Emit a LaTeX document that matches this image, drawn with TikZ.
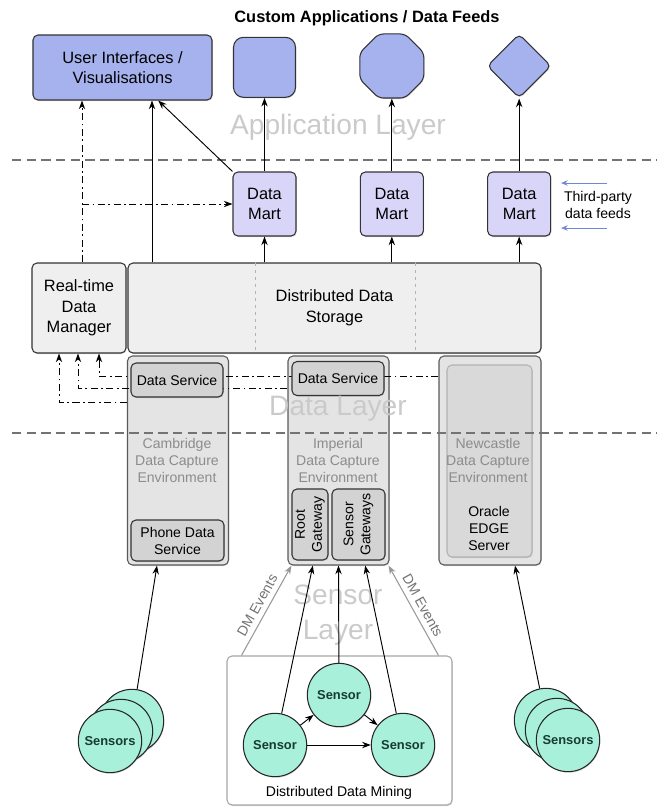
\documentclass[tikz,border=0pt]{standalone}
\usepackage{fontspec}
\setmainfont{Liberation Sans}
\usetikzlibrary{positioning,arrows.meta,shapes.geometric,shadows}
\definecolor{appblue}{HTML}{A6B2EE}
\definecolor{martlilac}{HTML}{D8D5F8}
\definecolor{mint}{HTML}{A9F0DA}
\definecolor{sensortext}{HTML}{163C2E}
\definecolor{storegrey}{HTML}{EFEFEF}
\definecolor{envgrey}{HTML}{E4E4E4}
\definecolor{svcgrey}{HTML}{D3D3D3}
\definecolor{layergrey}{HTML}{CACACA}
\definecolor{feedblue}{HTML}{7089D6}
\tikzset{
>={Stealth[length=2.6mm,width=1.9mm]}, % arrow heads
every path/.style={thick},
every node/.style={align=center,font=\fontsize{14}{17.5}\selectfont},
box/.style={draw=black!80, line width=0.9pt, rounded corners=0.15cm, inner sep=0pt,
  drop shadow={opacity=0.3,shadow xshift=0.6pt,shadow yshift=-0.9pt}},
app/.style={box, fill=appblue},
mart/.style={box, fill=martlilac, minimum width=1.89cm, minimum height=1.92cm},
store/.style={box, fill=storegrey, minimum height=2.7cm},
env/.style={box, draw=black!65, fill=envgrey, minimum width=3.03cm, minimum height=6.27cm},
svc/.style={box, fill=svcgrey, font=\fontsize{12}{14.5}\selectfont},
sensor/.style={circle, draw=black!85, line width=0.9pt, fill=mint, minimum size=1.9cm, inner sep=0pt,
  text=sensortext, font=\bfseries\fontsize{11}{13}\selectfont,
  drop shadow={opacity=0.3,shadow xshift=0.6pt,shadow yshift=-0.9pt}},
envname/.style={text=black!45, font=\fontsize{12}{14.5}\selectfont},
layername/.style={text=layergrey, font=\fontsize{24}{30}\selectfont},
layerline/.style={draw=black!55, line width=1.2pt, dash pattern=on 8pt off 4.5pt},
sepline/.style={draw=black!30, dashed, line width=0.6pt},
dashdot/.style={dash pattern=on 6pt off 3pt on 1.5pt off 3pt},
dmline/.style={draw=black!40, line width=0.9pt},
feed/.style={draw=feedblue, line width=0.8pt, -{Stealth[length=2mm,width=1.6mm]}},
small/.style={font=\fontsize{12}{14.5}\selectfont}
}

\begin{document}
\begin{tikzpicture}[x=0.03cm, y=-0.03cm, on grid]
\useasboundingbox (0,0) rectangle (657,807);

% layer names
\node[layername] (applayer) at (338,127) {Application Layer};
\node[layername] (sensorlayer) at (338,615) {Sensor\\Layer};

% application layer
\node[font=\bfseries\fontsize{14}{17}\selectfont] (apptitle) at (367,18) {Custom Applications / Data Feeds};
\node[app, minimum width=5.37cm, minimum height=1.95cm] (ui) at (122.5,67.5) {User Interfaces /\\Visualisations};
\node[mart] (dm1) at (264.5,204) {Data\\Mart};
\node[mart, right=3.82cm of dm1] (dm2) {Data\\Mart};
\node[mart, right=3.82cm of dm2] (dm3) {Data\\Mart};
\node[app, rounded corners=0.3cm, minimum width=1.86cm, minimum height=1.8cm, above=4.1cm of dm1] (feed1) {};
\node[app, regular polygon, regular polygon sides=8, minimum size=2.08cm, above=4.14cm of dm2] (feed2) {};
\node[app, diamond, minimum width=1.92cm, minimum height=1.92cm, above=4.14cm of dm3] (feed3) {};

% storage
\node[store, minimum width=2.82cm] (rtdm) at (79,308) {Real-time\\Data\\Manager};
\node[store, minimum width=12.39cm] (dds) at (334.5,308) {Distributed Data\\Storage};
\draw[sepline] ([xshift=3.84cm]dds.north west) -- ([xshift=3.84cm]dds.south west);
\draw[sepline] ([xshift=8.64cm]dds.north west) -- ([xshift=8.64cm]dds.south west);

% data capture environments
\node[env] (cam) at (178,460.5) {};
\node[env] (imp) at (338.5,460.5) {};
\node[env, minimum width=3.06cm] (new) at (490,460.5) {};
\node[box, draw=black!30, fill=black!15, minimum width=2.55cm, minimum height=5.76cm] (newcore) at (489.5,461) {};

% layer boundaries
\draw[layerline] (12,160) -- (657,160);
\draw[layerline] (12,433) -- (657,433);

% feeds into the real-time manager
\coordinate (tapA) at (99,376);
\coordinate (tapB) at (78,388);
\coordinate (tapC) at (59,402);
\draw[dashdot,->] (new.west |- tapA) -| (tapA |- rtdm.south);
\draw[dashdot,->] (imp.west |- tapB) -| (tapB |- rtdm.south);
\draw[dashdot,->] (cam.west |- tapC) -| (tapC |- rtdm.south);

\node[svc, minimum width=2.76cm, minimum height=1.02cm] (camsvc) at (177,380) {Data Service};
\node[svc, minimum width=2.76cm, minimum height=1.02cm] (impsvc) at (338,378.5) {Data Service};
\node[svc, minimum width=2.79cm, minimum height=1.23cm] (phone) at (177.5,540.5) {Phone Data\\Service};
\node[svc, rotate=90, minimum width=2.13cm, minimum height=1.08cm] (root) at (310,524.5) {Root\\Gateway};
\node[svc, rotate=90, minimum width=2.13cm, minimum height=1.59cm] (sgw) at (358.5,524.5) {Sensor\\Gateways};

\node[envname] (camtxt) at (177,460) {Cambridge\\Data Capture\\Environment};
\node[envname] (imptxt) at (338,460) {Imperial\\Data Capture\\Environment};
\node[envname] (newtxt) at (488,460) {Newcastle\\Data Capture\\Environment};
\node[small] (oracle) at (489,528) {Oracle\\EDGE\\Server};
\node[layername] (datalayer) at (338,409) {Data Layer};

% links up to the applications
\coordinate (uitap) at (82,0);
\coordinate (uidrop) at (152,0);
\draw[dashdot,->] (uitap |- rtdm.north) -- (uitap |- ui.south);
\draw[dashdot,->] (uitap |- dm1) -- (dm1.west);
\path[->]
  (uidrop |- dds.north) edge (uidrop |- ui.south)
  (dm1.north west) edge ([xshift=1.07cm]ui.south)
  (dm1) edge (feed1)
  (dm2) edge (feed2)
  (dm3) edge (feed3)
  (dm1 |- dds.north) edge (dm1)
  (dm2 |- dds.north) edge (dm2)
  (dm3 |- dds.north) edge (dm3);

% third-party feeds
\coordinate (feedA) at (607,183);
\coordinate (feedB) at (607,228);
\coordinate (feedtip) at (561,0);
\draw[feed] (feedA) -- (feedtip |- feedA);
\draw[feed] (feedB) -- (feedtip |- feedB);
\node[small] (feedtxt) at (598,205) {Third-party\\data feeds};

% sensor layer
\node[box, draw=black!35, fill=white, minimum width=6.75cm, minimum height=4.47cm] (ddm) at (339.5,730.5) {};
\node[small] (ddmtxt) at (339,793) {Distributed Data Mining};
\node[sensor] (s1) at (275,745) {Sensor};
\node[sensor] (s2) at (339,695) {Sensor};
\node[sensor] (s3) at (403,745) {Sensor};

\node[sensor] (lsc) at (132,721) {};
\node[sensor] (lsb) at (121,731) {};
\node[sensor] (lsa) at (110,741) {Sensors};
\node[sensor] (rsc) at (546,720) {};
\node[sensor] (rsb) at (557,730) {};
\node[sensor] (rsa) at (568,740) {Sensors};

\path[->]
  (s1) edge (s2)
  (s1) edge (s3)
  (s2) edge (s3)
  (s1) edge ([xshift=-0.77cm]imp.south)
  (s2) edge (imp.south)
  (s3) edge ([xshift=0.8cm]imp.south)
  (lsc) edge ([xshift=-0.63cm]cam.south)
  (rsc) edge ([xshift=0.75cm]new.south);
\draw[dmline,->] ([xshift=0.45cm]ddm.north west) -- node[small, sloped, above=1pt, text=black!55] {DM Events} ([xshift=0.12cm]imp.south west);
\draw[dmline,<-] ([xshift=-0.03cm]imp.south east) -- node[small, sloped, above=1pt, text=black!55] {DM Events} ([xshift=-0.42cm]ddm.north east);
\end{tikzpicture}
\end{document}
